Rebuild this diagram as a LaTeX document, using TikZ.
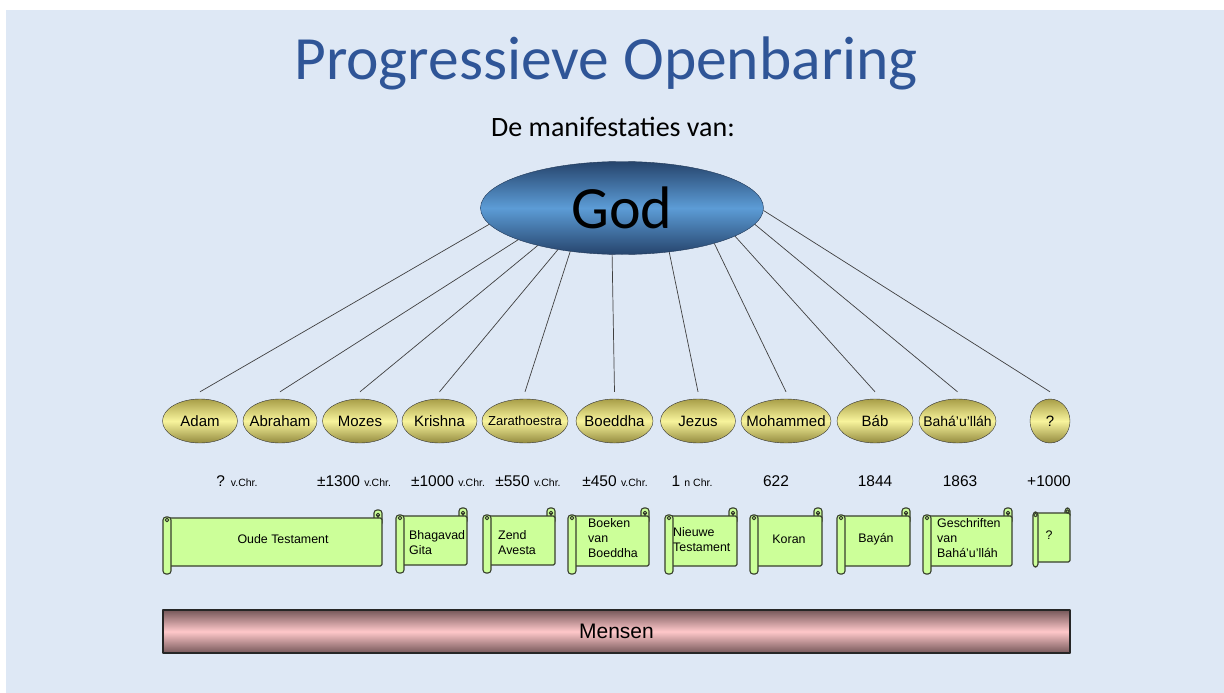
\documentclass[tikz,border=0pt]{standalone}
\usepackage{fontspec}
\setmainfont{Liberation Sans}
\newfontfamily\calibri{Carlito}
\usetikzlibrary{shapes.geometric}

\definecolor{achtergrond}{RGB}{222,232,245}
\definecolor{titelblauw}{RGB}{47,85,151}
\definecolor{goddonker}{RGB}{38,68,108}
\definecolor{godlicht}{RGB}{92,156,214}
\definecolor{gouddonker}{RGB}{168,158,72}
\definecolor{goudlicht}{RGB}{248,244,156}
\definecolor{rolgroen}{RGB}{204,255,153}
\definecolor{rolrand}{RGB}{55,62,45}
\definecolor{mensdonker}{RGB}{118,88,90}
\definecolor{menslicht}{RGB}{255,200,202}
\definecolor{lijngrijs}{RGB}{64,64,64}

\newcommand\fs[1]{\fontsize{#1}{#1}\selectfont}

\tikzset{
  god/.style = {ellipse, draw = goddonker!80!black, thin, minimum width = 283, minimum height = 93,
    inner sep = 0, top color = goddonker, bottom color = goddonker, middle color = godlicht,
    font = \calibri\fs{60}},
  profeet/.style = {ellipse, draw = black!80, thin, minimum height = 44, inner sep = -15pt,
    top color = gouddonker, bottom color = gouddonker!88!black, middle color = goudlicht,
    font = \fs{15}},
  lijn/.style = {draw = lijngrijs, line width = .7pt},
  rol/.style = {draw = rolrand, fill = rolgroen, line width = 1.1pt},
  roltekst/.style = {inner sep = 0, align = left, font = \fontsize{12.4}{15}\selectfont},
  jaartal/.style = {anchor = base, inner sep = 0, font = \fs{15.5}},
  mensen/.style = {draw = black!85, line width = 1.3pt, minimum width = 907, minimum height = 43,
    inner sep = 0, top color = mensdonker, bottom color = mensdonker, middle color = menslicht,
    font = \fs{21}}
}

% boekrol: [krul] links, boven, rechts, onder
\newcommand\boekrol[5][8]{%
  \filldraw[rol, rounded corners = 3pt] ({#4-#1},#3) rectangle (#4,{#3+2*#1});
  \filldraw[rol, rounded corners = 1.5pt] ({#2+#1/2},{#3+#1}) rectangle (#4,{#5-#1});
  \draw[rol, fill = none] ({#4-#1/2},{#3+#1}) -- ({#4-#1/2},{#3+#1/2+1}) circle (1.8pt);
  \filldraw[rol, rounded corners = 3pt] (#2,{#3+#1-1}) rectangle ({#2+#1},#5);
  \draw[rol, fill = none] ({#2+#1/2},{#3+#1+2}) circle (1.8pt);
}

\begin{document}
\begin{tikzpicture}[x = 1pt, y = -1pt, line join = round]
	\fill[white] (0,0) rectangle (1224,693);
	\fill[achtergrond] (6,10) rectangle (1224,693);
	\useasboundingbox (0,0) rectangle (1224,693);
	
	\node[anchor = base, text = titelblauw, font = \calibri\fs{61.5}] (titel) at (606,80) {Progressieve Openbaring};
	\node[anchor = base, font = \calibri\fs{28}] (ondertitel) at (613,136) {De manifestaties van:};
	\node[god] (god) at (622,208) {God};
	
	% profeten, met lijnen naar God
	\foreach \naam/\x/\b/\tekst/\hoek in {
		adam/200/75/Adam/187, abraham/280/74/Abraham/197, mozes/360/75/Mozes/204,
		krishna/439.5/75/Krishna/213, zarathoestra/525/86/{\fs{13}Zarathoestra}/220,
		boeddha/614.5/77/Boeddha/258, jezus/698/75/Jezus/317.5, mohammed/786/90/Mohammed/339.5,
		bab/875/76/Báb/346.5, bahaullah/957.5/77/{\fs{14}Bahá’u’lláh}/353.7, onbekend/1050/40/?/359}
	{
		\node[profeet, minimum width = \b] (\naam) at (\x,421) {\tekst};
		\draw[lijn] (god.\hoek) -- ([yshift = 7pt]\naam.north);
	}
	
	% jaartallen
	\foreach \x/\jaar [count = \i] in {
		237/{? {\fs{10.5}v.Chr.}}, 354/{±1300 {\fs{10.5}v.Chr.}}, 448/{±1000 {\fs{10.5}v.Chr.}},
		528/{±550 {\fs{10.5}v.Chr.}}, 615/{±450 {\fs{10.5}v.Chr.}}, 692/{1 {\fs{10.5}n Chr.}},
		776/622, 875/1844, 960/1863, 1049/+1000}
		\node[jaartal] (jaar\i) at (\x,486) {\jaar};
	
	% heilige boeken
	\boekrol{163}{510}{382}{574}
	\boekrol{396}{508}{467}{573}
	\boekrol{483}{508}{555}{573}
	\boekrol{568}{508}{649}{574}
	\boekrol{665}{508}{737}{574}
	\boekrol{750}{508}{822}{574}
	\boekrol{837}{508}{910}{574}
	\boekrol{923}{508}{1012}{574}
	\boekrol[5]{1033}{508}{1070}{567}
	
	\node[roltekst] (oude) at (283,539) {Oude Testament};
	\node[roltekst, anchor = west] (gita) at (409,543) {Bhagavad\\Gita};
	\node[roltekst, anchor = west] (avesta) at (498,543) {Zend\\Avesta};
	\node[roltekst, anchor = west] (boeken) at (588,538) {Boeken\\van\\Boeddha};
	\node[roltekst, anchor = west] (nieuwe) at (673,539.5) {Nieuwe\\Testament};
	\node[roltekst] (koran) at (789,539) {Koran};
	\node[roltekst] (bayan) at (876,539) {Bayán};
	\node[roltekst, anchor = west] (geschriften) at (937,538) {Geschriften\\van\\Bahá'u'lláh};
	\node[roltekst] (boekonbekend) at (1049,535) {?};
	
	\node[mensen] (mensen) at (616.5,631.5) {Mensen};
\end{tikzpicture}
\end{document}
